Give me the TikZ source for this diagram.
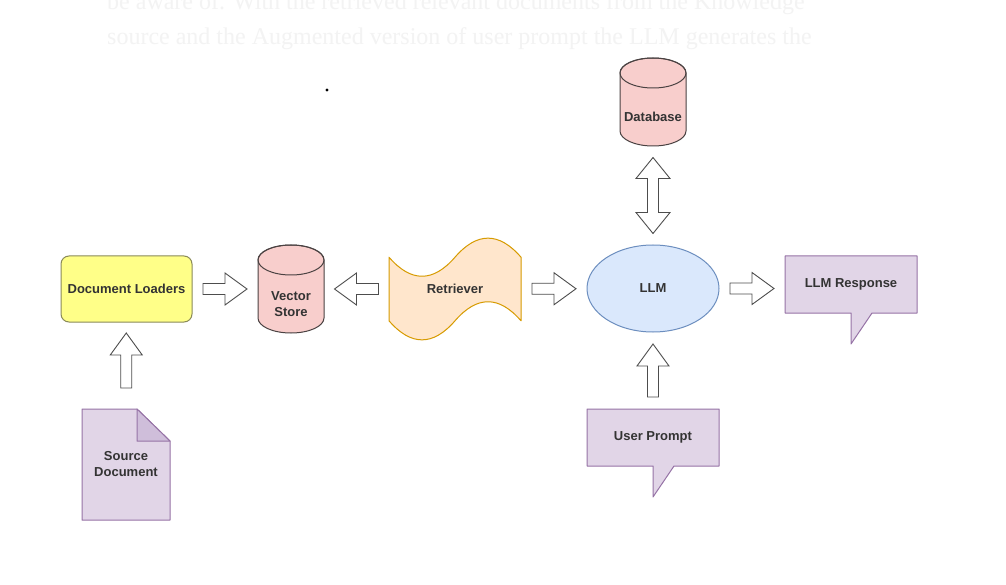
\documentclass[tikz,border=0pt]{standalone}
\usepackage{fontspec}
\setmainfont{Liberation Sans}
\newfontfamily\pageserif{Liberation Serif}
\usetikzlibrary{calc}
\usetikzlibrary{backgrounds}
\usetikzlibrary{shapes.geometric}

\definecolor{loaderfill}{HTML}{FFFF88}
\definecolor{loaderline}{HTML}{8A8A58}
\definecolor{cylfill}{HTML}{F8CECC}
\definecolor{cylline}{HTML}{4A4242}
\definecolor{tapefill}{HTML}{FFE6CC}
\definecolor{tapeline}{HTML}{D79B00}
\definecolor{llmfill}{HTML}{DAE8FC}
\definecolor{llmline}{HTML}{6C8EBF}
\definecolor{notefill}{HTML}{E1D5E7}
\definecolor{noteline}{HTML}{9673A6}
\definecolor{notefold}{HTML}{CFBEDA}
\definecolor{arrowline}{HTML}{4D4D4D}
\definecolor{labeltext}{HTML}{333333}
\definecolor{pagetext}{HTML}{F3F3F3}

\tikzset{
  boxtext/.style = {font = \fontsize{13}{16}\selectfont\bfseries,
    text = labeltext, align = center, inner sep = 0pt, outer sep = 0pt},
  shapebox/.style 2 args = {boxtext, minimum width = #1pt, minimum height = #2pt},
  outline/.style = {line width = 1pt, line join = round},
  arrowbody/.style = {fill = white, draw = arrowline, line width = 0.9pt},
  pics/fatarrow/.style = {code = {
    \draw[arrowbody] (-#1/2, -5.5) -- (#1/2-22, -5.5) -- (#1/2-22, -16)
      -- (#1/2, 0) -- (#1/2-22, 16) -- (#1/2-22, 5.5) -- (-#1/2, 5.5) -- cycle;
  }},
  pics/twinarrow/.style = {code = {
    \draw[arrowbody] (-#1/2, 0) -- (-#1/2+21, -17) -- (-#1/2+21, -5.5)
      -- (#1/2-21, -5.5) -- (#1/2-21, -17) -- (#1/2, 0) -- (#1/2-21, 17)
      -- (#1/2-21, 5.5) -- (-#1/2+21, 5.5) -- (-#1/2+21, 17) -- cycle;
  }},
}

\begin{document}
\begin{tikzpicture}[x = 1pt, y = -1pt]
  \useasboundingbox (0, 0) rectangle (1006, 585);

  % faded page text behind the figure
  \node[font = \pageserif\fontsize{24}{28}\selectfont, text = pagetext,
    anchor = base west, inner sep = 0pt] (line1) at (107, 10)
    {be aware of. With the retrieved relevant documents from the Knowledge};
  \node[font = \pageserif\fontsize{24}{28}\selectfont, text = pagetext,
    anchor = base west, inner sep = 0pt] (line2) at (107, 45)
    {source and the Augmented version of user prompt the LLM generates the};
  \fill (327, 90) circle (1.6pt);

  \node[boxtext, draw = loaderline, fill = loaderfill, outline,
    rounded corners = 8pt, minimum width = 131pt, minimum height = 66pt]
    (loaders) at (126.5, 289) {Document Loaders};
  \node[shapebox = {66}{88}] (vstore) at (291, 289) {};
  \node[shapebox = {132}{106}] (retriever) at (455, 289) {Retriever};
  \node[boxtext, ellipse, draw = llmline, fill = llmfill, outline,
    minimum width = 132pt, minimum height = 87pt]
    (llm) at (653, 288.5) {LLM};
  \node[shapebox = {132}{57}] (response) at (851, 284.5) {LLM Response};
  \node[shapebox = {66}{88}] (database) at (653, 102) {};
  \node[shapebox = {132}{57}] (prompt) at (653, 437.5) {User Prompt};
  \node[shapebox = {88}{111}] (source) at (126, 464.5) {Source\\Document};

  \node[boxtext] (vstorelabel) at ($(vstore.center) + (0, 15)$) {Vector\\Store};
  \node[boxtext] (databaselabel) at ($(database.center) + (0, 15)$) {Database};

  \begin{scope}[on background layer]
    \fill[white] (0, 0) rectangle (1006, 585);

    % cylinders
    \foreach \cyl in {vstore, database}{
      \filldraw[outline, fill = cylfill, draw = cylline]
        ($(\cyl.north west) + (0, 15)$) -- ($(\cyl.south west) + (0, -15)$)
        arc[start angle = 180, end angle = 360, x radius = 33pt, y radius = 15pt]
        -- ($(\cyl.north east) + (0, 15)$)
        arc[start angle = 0, end angle = 180, x radius = 33pt, y radius = 15pt]
        -- cycle;
      \draw[outline, draw = cylline] ($(\cyl.north) + (0, 15)$)
        ellipse[x radius = 33pt, y radius = 15pt];
    }

    % tape
    \filldraw[outline, fill = tapefill, draw = tapeline,
      shift = {(retriever.north west)}]
      (0, 21.2) .. controls (22, 46.6) and (44, 46.6) .. (66, 21.2)
      .. controls (88, -4.2) and (110, -4.2) .. (132, 21.2) -- (132, 84.8)
      .. controls (110, 59.4) and (88, 59.4) .. (66, 84.8)
      .. controls (44, 110.2) and (22, 110.2) .. (0, 84.8) -- cycle;

    % callouts
    \foreach \bubble in {response, prompt}{
      \filldraw[outline, fill = notefill, draw = noteline]
        (\bubble.north west) -- (\bubble.north east) -- (\bubble.south east)
        -- ($(\bubble.south) + (21, 0)$) -- ($(\bubble.south) + (0, 31)$)
        -- (\bubble.south) -- (\bubble.south west) -- cycle;
    }

    % note
    \filldraw[outline, fill = notefill, draw = noteline]
      (source.north west) -- ($(source.north east) + (-33, 0)$)
      -- ($(source.north east) + (0, 32)$) -- (source.south east)
      -- (source.south west) -- cycle;
    \filldraw[outline, fill = notefold, draw = noteline]
      ($(source.north east) + (-33, 0)$) -- ($(source.north east) + (-33, 32)$)
      -- ($(source.north east) + (0, 32)$) -- cycle;
  \end{scope}

  \pic at ($(loaders.east)!.5!(vstore.west)$) {fatarrow = 44};
  \pic[rotate = 180] at ($(vstore.east)!.5!(retriever.west)$) {fatarrow = 44};
  \pic at ($(retriever.east)!.5!(llm.west)$) {fatarrow = 44};
  \pic at ($(llm.east)!.5!(response.west |- llm.east)$) {fatarrow = 44};
  \pic[rotate = 90] at ($(source.north)!.5!(loaders.south) + (0, -5)$) {fatarrow = 55};
  \pic[rotate = 90] at ($(prompt.north)!.5!(llm.south)$) {fatarrow = 53};
  \pic[rotate = 90] at ($(database.south)!.5!(llm.north)$) {twinarrow = 76};
\end{tikzpicture}
\end{document}
